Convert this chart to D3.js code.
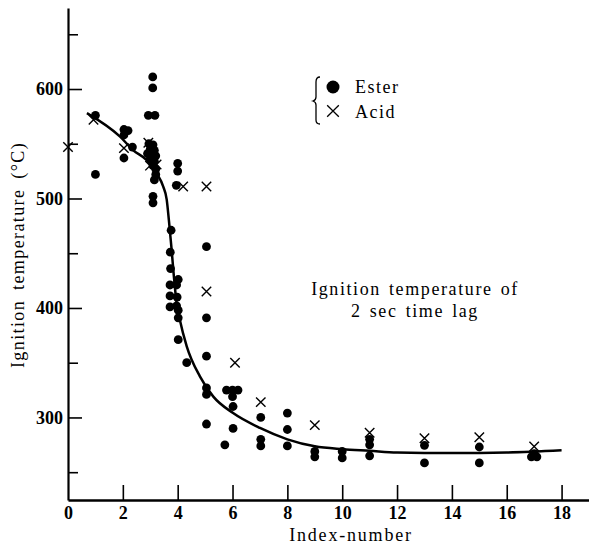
<!DOCTYPE html>
<html lang="en">
<head>
    <meta charset="UTF-8">
    <title>Ignition temperature vs index-number</title>
    <style>
        body { margin: 0; background: #fff; }
        svg { display: block; }
        text { font-family: "Liberation Serif", "DejaVu Serif", serif; fill: #000; }
        .tick text { font-size: 18px; font-weight: bold; }
        .domain { stroke: #000; }
    </style>
</head>
<body>
    <div id="chart"></div>

    <script src="https://d3js.org/d3.v7.min.js"></script>
    <script>
        const w = 589;
        const h = 557;

        // ester points [index-number, ignition temp °C]
        const esterX = [1.0, 1.0,
            2.04, 2.19, 2.04, 2.04, 2.35,
            3.09, 3.09, 2.93, 3.17,
            2.95, 3.1, 3.0, 3.15, 2.9, 3.05, 3.2, 3.0, 3.15, 3.1, 3.2, 3.2, 3.15,
            3.1, 3.1,
            4.0, 4.0, 3.95,
            3.76, 3.73, 3.74, 4.02, 3.72, 3.96, 3.72, 3.98, 3.72, 3.96, 4.02, 4.02, 4.02, 4.33,
            5.05, 5.05, 5.05, 5.05, 5.05, 5.05,
            5.78, 6.0, 6.2, 6.0, 6.02, 6.02, 5.72,
            7.03, 7.03, 7.03,
            8.0, 8.0, 8.0,
            9.0, 9.0,
            10.0, 10.0,
            11.0, 11.0, 11.0,
            13.0, 13.0,
            15.0, 15.0,
            16.9, 17.1, 17.0];
        const esterY = [576, 522,
            563, 562, 558, 537, 547,
            611, 601, 576, 576,
            550, 549, 545, 544, 541, 540, 539, 536, 534, 530, 527, 522, 517,
            502, 496,
            532, 525, 512,
            471, 451, 436, 426, 421, 421, 411, 410, 401, 402, 398, 391, 371, 350,
            456, 391, 356, 327, 321, 294,
            325, 325, 325, 319, 310, 290, 275,
            300, 280, 274,
            304, 289, 274,
            269, 264,
            269, 263,
            280, 275, 265,
            274.5, 258.5,
            273, 258.5,
            264, 264, 267];

        // acid points
        const acidX = [0, 0.93, 2.04, 2.93, 2.99, 3.23, 4.2, 5.05, 5.05, 6.09, 7.03, 9.0, 11.0, 13.0, 15.0, 17.0];
        const acidY = [547, 572, 546, 551, 530, 531, 511, 511, 415, 350, 314, 293, 286, 281, 282, 273.5];

        // fitted curve
        const curveX = [0.69, 1.9, 2.38, 2.87, 3.23, 3.47, 3.6, 3.68, 3.78, 3.86, 3.96, 4.08, 4.33, 4.81, 5.3, 6.02, 7.0, 8.0, 9.0, 10.0, 11.0, 12.0, 14.0, 16.0, 18.0];
        const curveY = [578, 556.5, 544, 535, 523, 511, 499, 480, 453, 429, 404.5, 389, 365, 337.5, 319, 304, 290.4, 280, 273.6, 271, 269.5, 268, 267.5, 268, 270];

        const xTicks = [0, 2, 4, 6, 8, 10, 12, 14, 16, 18];
        const yMajor = [300, 400, 500, 600];
        const yMinor = [250, 350, 450, 550, 650];

        const xScale = d3.scaleLinear().domain([0, 19]).range([68, 589]);
        const yScale = d3.scaleLinear().domain([224.6, 674]).range([500, 8]);

        const svg = d3.select('#chart')
            .append('svg')
            .attr('width', w)
            .attr('height', h);

        // x axis, ticks pointing up
        const xAxis = d3.axisBottom(xScale)
            .tickValues(xTicks)
            .tickSize(-15)
            .tickPadding(6)
            .tickSizeOuter(0);
        const gx = svg.append('g')
            .attr('id', 'x-axis')
            .attr('transform', 'translate(0,500)')
            .call(xAxis);
        gx.select('.domain').attr('stroke-width', 2.5);
        gx.selectAll('.tick line').attr('stroke', '#000').attr('stroke-width', 1.6);
        gx.selectAll('.tick').filter(d => d === 0).select('line').remove();

        // y axis, major ticks
        const yAxis = d3.axisLeft(yScale)
            .tickValues(yMajor)
            .tickSize(-14)
            .tickPadding(5)
            .tickFormat(d3.format('d'))
            .tickSizeOuter(0);
        const gy = svg.append('g')
            .attr('id', 'y-axis')
            .attr('transform', 'translate(68,0)')
            .call(yAxis);
        gy.select('.domain').attr('stroke-width', 2.2);
        gy.selectAll('.tick line').attr('stroke', '#000').attr('stroke-width', 1.6);

        // y minor ticks
        svg.append('g')
            .attr('transform', 'translate(68,0)')
            .call(d3.axisLeft(yScale).tickValues(yMinor).tickSize(-10).tickFormat('').tickSizeOuter(0))
            .call(g => g.select('.domain').remove())
            .selectAll('.tick line').attr('stroke', '#000').attr('stroke-width', 1.6);

        // curve
        const line = d3.line()
            .x((d, i) => xScale(curveX[i]))
            .y((d, i) => yScale(curveY[i]))
            .curve(d3.curveMonotoneX);
        svg.append('path')
            .datum(curveX)
            .attr('d', line)
            .attr('fill', 'none')
            .attr('stroke', '#000')
            .attr('stroke-width', 2.5);

        // ester dots
        svg.selectAll('.ester')
            .data(esterX)
            .enter()
            .append('circle')
            .attr('class', 'ester')
            .attr('cx', d => xScale(d))
            .attr('cy', (d, i) => yScale(esterY[i]))
            .attr('r', 4.4)
            .attr('fill', '#000');

        // acid crosses
        const cross = d3.symbol().type(d3.symbolX).size(60);
        svg.selectAll('.acid')
            .data(acidX)
            .enter()
            .append('path')
            .attr('class', 'acid')
            .attr('d', cross)
            .attr('transform', (d, i) => `translate(${xScale(d)},${yScale(acidY[i])})`)
            .attr('fill', 'none')
            .attr('stroke', '#000')
            .attr('stroke-width', 1.4);

        // legend
        const legend = svg.append('g').attr('id', 'legend');
        legend.append('path')
            .attr('d', 'M320,77 Q316,77 316,82 L316,97 Q316,100 313,101 Q316,102 316,105 L316,120 Q316,124 320,124')
            .attr('fill', 'none')
            .attr('stroke', '#000')
            .attr('stroke-width', 1.3);
        legend.append('circle')
            .attr('cx', 333).attr('cy', 87).attr('r', 6.5).attr('fill', '#000');
        legend.append('path')
            .attr('d', d3.symbol().type(d3.symbolX).size(90))
            .attr('transform', 'translate(333,111)')
            .attr('fill', 'none').attr('stroke', '#000').attr('stroke-width', 1.3);
        legend.append('text').attr('x', 355).attr('y', 93)
            .style('font-size', '18px').style('letter-spacing', '1.5px').text('Ester');
        legend.append('text').attr('x', 355).attr('y', 118)
            .style('font-size', '18px').style('letter-spacing', '1.5px').text('Acid');

        // annotation
        svg.append('text')
            .attr('x', 415).attr('y', 295)
            .attr('text-anchor', 'middle')
            .style('font-size', '18px')
            .style('letter-spacing', '1.6px')
            .style('word-spacing', '2px')
            .text('Ignition temperature of');
        svg.append('text')
            .attr('x', 415).attr('y', 317)
            .attr('text-anchor', 'middle')
            .style('font-size', '18px')
            .style('letter-spacing', '1.6px')
            .style('word-spacing', '2px')
            .text('2 sec time lag');

        // axis labels
        svg.append('text')
            .attr('x', 351).attr('y', 541)
            .attr('text-anchor', 'middle')
            .style('font-size', '18px')
            .style('letter-spacing', '1.8px')
            .text('Index-number');
        svg.append('text')
            .attr('transform', 'translate(24,255) rotate(-90)')
            .attr('text-anchor', 'middle')
            .style('font-size', '18px')
            .style('letter-spacing', '1.4px')
            .style('word-spacing', '4px')
            .text('Ignition temperature (°C)');
    </script>
</body>
</html>
